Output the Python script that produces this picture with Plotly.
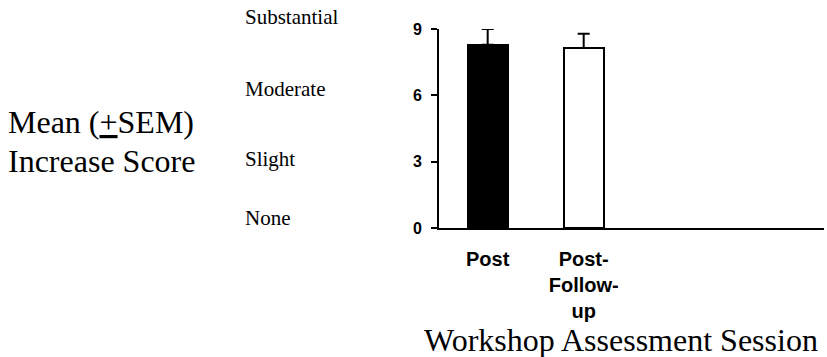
import plotly.graph_objects as go

# Mean increase score per assessment session, with SEM
sessions = ["Post", "Post-<br>Follow-<br>up"]
mean_score = [8.29, 8.14]
sem = [0.71, 0.65]
fill_colors = ["black", "white"]

# Verbal anchors for the rating scale, shown beside the numeric axis
scale_words = ["Substantial", "Moderate", "Slight", "None"]
scale_word_y = [17.5, 88.5, 159, 217.5]  # pixel rows of the words

y_ticks = [0, 3, 6, 9]

W, H = 827, 357
L, R, T, B = 439, 3, 29, 129
PW, PH = W - L - R, H - T - B

SERIF = "Liberation Serif, Times New Roman, serif"
SANS = "Liberation Sans, Arial, sans-serif"


def px_x(px):
    return (px - L) / PW


def px_y(py):
    return (H - B - py) / PH


fig = go.Figure()
fig.add_trace(go.Bar(
    x=sessions,
    y=mean_score,
    width=0.42,
    marker=dict(color=fill_colors, line=dict(color="black", width=2)),
    error_y=dict(type="data", symmetric=False, array=sem,
                 arrayminus=[0] * len(sem), color="black",
                 thickness=2, width=6),
    cliponaxis=False,
))

annotations = []
for word, yy in zip(scale_words, scale_word_y):
    annotations.append(dict(
        text=word, xref="paper", yref="paper",
        x=px_x(243), y=px_y(yy), xanchor="left", yanchor="middle",
        showarrow=False,
        font=dict(family=SERIF, size=21, color="black"),
    ))

annotations.append(dict(
    text="Mean (<u>+</u>SEM)", xref="paper", yref="paper",
    x=px_x(6), y=px_y(122), xanchor="left", yanchor="middle",
    showarrow=False,
    font=dict(family=SERIF, size=32, color="black"),
))
annotations.append(dict(
    text="Increase Score", xref="paper", yref="paper",
    x=px_x(6), y=px_y(161), xanchor="left", yanchor="middle",
    showarrow=False,
    font=dict(family=SERIF, size=32, color="black"),
))
annotations.append(dict(
    text="Workshop Assessment Session", xref="paper", yref="paper",
    x=px_x(422), y=px_y(340), xanchor="left", yanchor="middle",
    showarrow=False,
    font=dict(family=SERIF, size=32, color="black"),
))

fig.update_layout(
    width=W, height=H,
    margin=dict(l=L, r=R, t=T, b=B, pad=0),
    paper_bgcolor="white", plot_bgcolor="white",
    showlegend=False,
    bargap=0,
    annotations=annotations,
    xaxis=dict(
        type="category", range=[-0.507, 3.503],
        showline=True, linecolor="black", linewidth=2,
        ticks="", showgrid=False, zeroline=False,
        ticklabelstandoff=12,
        tickfont=dict(family=SANS, size=20, color="black", weight="bold"),
        fixedrange=True,
    ),
    yaxis=dict(
        range=[0, 9], tickvals=y_ticks,
        showline=True, linecolor="black", linewidth=2,
        ticks="outside", ticklen=6, tickwidth=2, tickcolor="black",
        showgrid=False, zeroline=False,
        ticklabelstandoff=6,
        tickfont=dict(family=SANS, size=16, color="black", weight="bold"),
        fixedrange=True,
    ),
)

fig.write_html("out.html", config={"displayModeBar": False})
